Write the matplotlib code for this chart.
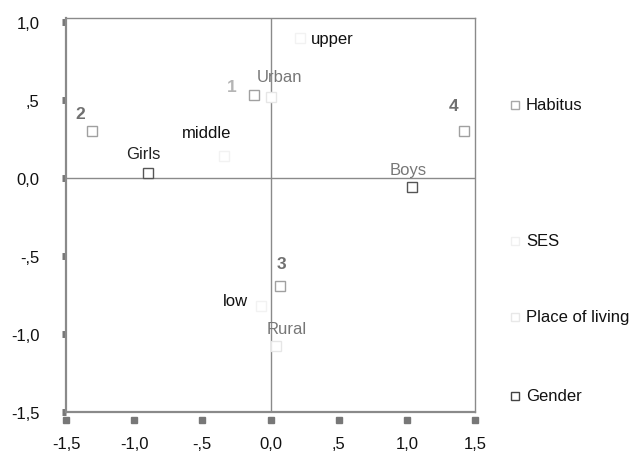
import matplotlib
matplotlib.use("Agg")
import matplotlib.pyplot as plt
import matplotlib.transforms as mtransforms

plt.rcParams['font.family'] = ['Liberation Sans', 'DejaVu Sans']

# ---- data ----
habitus_labels = ['1', '2', '3', '4']
habitus_x = [-0.12, -1.31, 0.07, 1.42]
habitus_y = [0.53, 0.30, -0.69, 0.30]

ses_labels = ['upper', 'middle', 'low']
ses_x = [0.22, -0.34, -0.07]
ses_y = [0.90, 0.14, -0.82]

place_labels = ['Urban', 'Rural']
place_x = [0.00, 0.04]
place_y = [0.52, -1.08]

gender_labels = ['Girls', 'Boys']
gender_x = [-0.895, 1.04]
gender_y = [0.03, -0.06]

xticks = [-1.5, -1.0, -0.5, 0.0, 0.5, 1.0, 1.5]
xtick_labels = ['-1,5', '-1,0', '-,5', '0,0', ',5', '1,0', '1,5']
yticks = [-1.5, -1.0, -0.5, 0.0, 0.5, 1.0]
ytick_labels = ['-1,5', '-1,0', '-,5', '0,0', ',5', '1,0']

legend_names = ['Habitus', 'SES', 'Place of living', 'Gender']

# ---- styles ----
habitus_off = [(-22, 9), (-12, 18), (1, 22), (-11, 26)]
ses_off = [(32, -1), (-18, 24), (-26, 5)]
place_off = [(9, 20), (11, 18)]
gender_off = [(-5, 20), (-4, 18)]

fig = plt.figure(figsize=(6.33, 4.52), dpi=100)
ax = fig.add_axes([66/633, 1-413/452, (475-66)/633, (413-19)/452])
ax.set_xlim(-1.5, 1.5)
ax.set_ylim(-1.5, 1.026)

grey = '#8a8a8a'
for s in ax.spines.values():
    s.set_color(grey)
    s.set_linewidth(1.0)
ax.spines['left'].set_linewidth(1.6)
ax.spines['bottom'].set_linewidth(1.6)

ax.axhline(0, color=grey, lw=1.0, zorder=1)
ax.axvline(0, color=grey, lw=1.0, zorder=1)

def draw(xs, ys, labels, offs, mcolor, tcolor, weight='normal', size=12):
    ax.plot(xs, ys, ls='none', marker='s', ms=7, mfc='white', mec=mcolor, mew=1.0, zorder=3)
    for x, y, t, o in zip(xs, ys, labels, offs):
        ax.annotate(t, (x, y), xytext=o, textcoords='offset pixels',
                    ha='center', va='center', color=tcolor, fontsize=size,
                    fontweight=weight, zorder=4)

draw(habitus_x, habitus_y, habitus_labels, habitus_off, '#a0a0a0', '#707070', 'bold', 12.5)
ax.texts[0].set_color('#b5b5b5')  # label "1" faint in the scan
draw(ses_x, ses_y, ses_labels, ses_off, '#f2f2f2', '#111111')
draw(place_x, place_y, place_labels, place_off, '#e6e6e6', '#777777')
draw(gender_x, gender_y, gender_labels, gender_off, '#555555', '#222222')
ax.texts[-1].set_color('#777777')  # Boys label grey

# ticks
ax.set_xticks(xticks)
ax.set_xticklabels(xtick_labels)
ax.set_yticks(yticks)
ax.set_yticklabels(ytick_labels)
ax.tick_params(axis='x', length=0, pad=17, labelsize=12, colors='#111111')
ax.tick_params(axis='y', direction='out', length=3, width=5, color='#777777',
               pad=16, labelsize=12, labelcolor='#111111')

# detached x tick squares
tr = mtransforms.offset_copy(ax.get_xaxis_transform(), fig=fig, x=0, y=-8, units='dots')
ax.plot(xticks, [0]*len(xticks), ls='none', marker='s', ms=4, color='#777777',
        transform=tr, clip_on=False)

# legend (manual)
leg_y = [106, 242, 318, 397]
leg_mec = ['#a8a8a8', '#f0f0f0', '#e8e8e8', '#444444']
for name, yy, mc in zip(legend_names, leg_y, leg_mec):
    fy = 1 - yy/452
    fig.lines.append(plt.Line2D([515/633], [fy], marker='s', ms=6, mfc='white',
                                mec=mc, mew=1.0, ls='none', transform=fig.transFigure))
    fig.text(526/633, fy, name, fontsize=12, va='center', ha='left', color='#111111')

fig.savefig('out.png', dpi=100)
